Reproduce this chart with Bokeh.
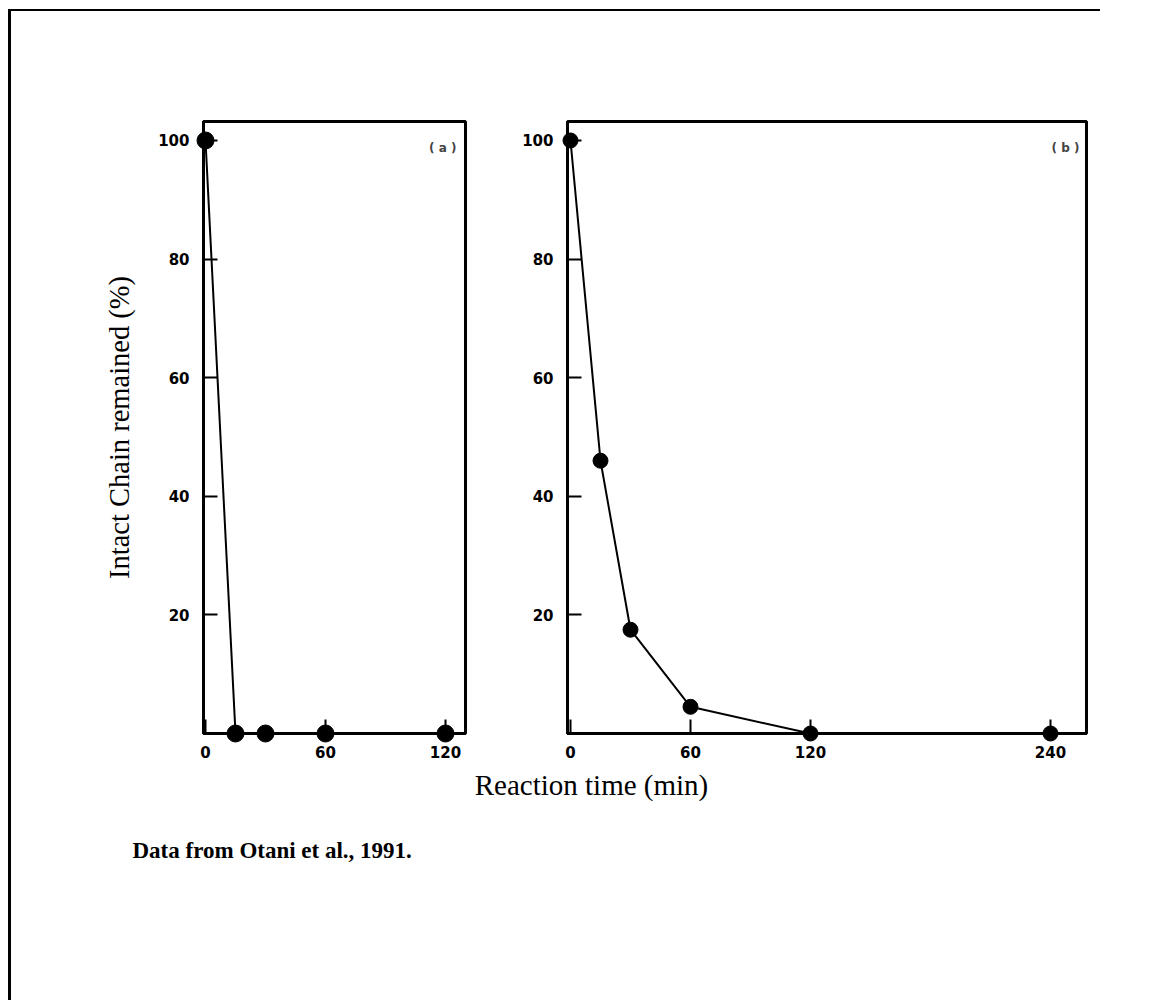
from bokeh.plotting import figure
from bokeh.models import Range1d, FixedTicker, Label
from bokeh.layouts import column, row
from bokeh.embed import file_html
from bokeh.resources import INLINE

# ---- data ----
a_time = [0, 15, 30, 60, 120]
a_pct = [100, 0, 0, 0, 0]
b_time = [0, 15, 30, 60, 120, 240]
b_pct = [100, 46, 17.5, 4.5, 0, 0]
a_xticks = [0, 60, 120]
b_xticks = [0, 60, 120, 240]
y_ticks = [20, 40, 60, 80, 100]
y_title = "Intact Chain remained (%)"
x_title = "Reaction time (min)"
caption = "Data from Otani et al., 1991."
tags = ["( a )", "( b )"]

TICK_FONT = "DejaVu Sans"
SERIF = "Liberation Serif"


def style_axes(p, xticks, show_ylabel):
    for ax in p.xaxis + p.yaxis:
        ax.axis_line_width = 3
        ax.axis_line_color = "black"
        ax.major_tick_in = 14
        ax.major_tick_out = 0
        ax.major_tick_line_width = 2
        ax.major_tick_line_color = "black"
        ax.minor_tick_line_color = None
        ax.major_label_text_font = TICK_FONT
        ax.major_label_text_font_style = "bold"
        ax.major_label_text_font_size = "15px"
        ax.major_label_text_color = "black"
    p.xaxis.ticker = FixedTicker(ticks=xticks)
    p.yaxis.ticker = FixedTicker(ticks=y_ticks)
    p.xaxis.major_label_standoff = 12
    p.yaxis.major_label_standoff = 14
    if show_ylabel:
        p.yaxis.axis_label = y_title
        p.yaxis.axis_label_text_font = SERIF
        p.yaxis.axis_label_text_font_style = "normal"
        p.yaxis.axis_label_text_font_size = "28.5px"
        p.yaxis.axis_label_text_color = "black"
        p.yaxis.axis_label_standoff = 20
    p.xgrid.grid_line_color = None
    p.ygrid.grid_line_color = None
    p.outline_line_color = "black"
    p.outline_line_width = 3
    p.background_fill_color = "white"
    p.border_fill_color = "white"


# panel (a)
pa = figure(width=504, height=757, x_range=Range1d(-1, 130), y_range=Range1d(0, 103.2),
            output_backend="svg", toolbar_location=None,
            min_border_left=192, min_border_right=50, min_border_top=110, min_border_bottom=35)
style_axes(pa, a_xticks, True)
pa.line(a_time, a_pct, line_color="black", line_width=2, level="overlay")
pa.scatter(a_time, a_pct, size=17, fill_color="black", line_color="black", level="overlay")
pa.add_layout(Label(x=253, y=586, x_units="screen", y_units="screen", text=tags[0],
                    text_align="right", text_baseline="middle", text_font=TICK_FONT,
                    text_font_size="12px", text_font_style="bold"))

# panel (b)
pb = figure(width=585, height=757, x_range=Range1d(-1.5, 258), y_range=Range1d(0, 103.2),
            output_backend="svg", toolbar_location=None,
            min_border_left=52, min_border_right=14, min_border_top=110, min_border_bottom=35)
style_axes(pb, b_xticks, False)
pb.line(b_time, b_pct, line_color="black", line_width=2, level="overlay")
pb.scatter(b_time, b_pct, size=15, fill_color="black", line_color="black", level="overlay")
pb.add_layout(Label(x=512, y=586, x_units="screen", y_units="screen", text=tags[1],
                    text_align="right", text_baseline="middle", text_font=TICK_FONT,
                    text_font_size="12px", text_font_style="bold"))

# bottom texts
W, H = 1089, 232
pt = figure(width=W, height=H, x_range=Range1d(0, W), y_range=Range1d(H, 0),
            output_backend="svg", toolbar_location=None, x_axis_type=None, y_axis_type=None,
            min_border=0)
pt.outline_line_color = None
pt.background_fill_color = "white"
pt.border_fill_color = "white"
pt.add_layout(Label(x=580, y=16, text=x_title, text_align="center", text_baseline="middle",
                    text_font=SERIF, text_font_size="29px", text_color="black"))
pt.add_layout(Label(x=121, y=82, text=caption, text_align="left", text_baseline="middle",
                    text_font=SERIF, text_font_size="23px", text_font_style="bold",
                    text_color="black"))

page = column(row(pa, pb), pt,
              styles={"margin-left": "8px", "margin-top": "9px",
                      "border-left": "3px solid black", "border-top": "2px solid black"})

open("out.html", "w").write(file_html(page, INLINE))
